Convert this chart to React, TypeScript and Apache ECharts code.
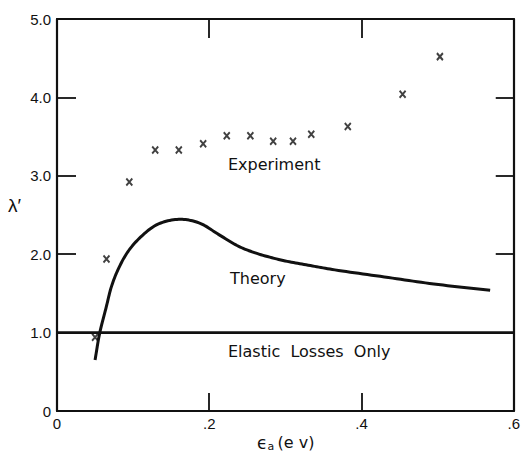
import React, { useEffect, useRef } from "react";
import * as echarts from "echarts";

const xTickLabels = ["0", ".2", ".4", ".6"];
const yTickLabels = ["0", "1.0", "2.0", "3.0", "4.0", "5.0"];

const experimentX = [0.05, 0.065, 0.095, 0.129, 0.16, 0.192, 0.223, 0.254, 0.284, 0.31, 0.334, 0.382, 0.454, 0.503];
const experimentY = [0.94, 1.94, 2.92, 3.33, 3.33, 3.41, 3.51, 3.51, 3.44, 3.44, 3.53, 3.63, 4.04, 4.52];

const theoryX = [0.05, 0.056, 0.0648, 0.0713, 0.08, 0.093, 0.11, 0.132, 0.16, 0.1865, 0.2126, 0.2387, 0.2626, 0.297, 0.33, 0.365, 0.43, 0.495, 0.569];
const theoryY = [0.65, 0.99, 1.33, 1.58, 1.8, 2.03, 2.22, 2.38, 2.445, 2.4, 2.25, 2.1, 2.01, 1.92, 1.86, 1.8, 1.71, 1.62, 1.54];

const elasticX = [0, 0.6];
const elasticY = [1.0, 1.0];

const FONT = "Liberation Sans";
const TFONT = "DejaVu Sans";

type P = number[];
function catmullRom(pts: P[], steps: number): P[] {
  const n = pts.length;
  const ext: P[] = [
    [2 * pts[0][0] - pts[1][0], 2 * pts[0][1] - pts[1][1]],
    ...pts,
    [2 * pts[n - 1][0] - pts[n - 2][0], 2 * pts[n - 1][1] - pts[n - 2][1]],
  ];
  const out: P[] = [pts[0]];
  const d = (a: P, b: P) => Math.max(Math.pow(Math.hypot(b[0] - a[0], b[1] - a[1]), 0.5), 1e-6);
  const lerp = (a: P, b: P, ta: number, tb: number, t: number): P => {
    const u = (t - ta) / (tb - ta);
    return [a[0] + (b[0] - a[0]) * u, a[1] + (b[1] - a[1]) * u];
  };
  for (let i = 1; i < ext.length - 2; i++) {
    const p0 = ext[i - 1], p1 = ext[i], p2 = ext[i + 1], p3 = ext[i + 2];
    const t0 = 0, t1 = t0 + d(p0, p1), t2 = t1 + d(p1, p2), t3 = t2 + d(p2, p3);
    for (let s = 1; s <= steps; s++) {
      const t = t1 + ((t2 - t1) * s) / steps;
      const A1 = lerp(p0, p1, t0, t1, t);
      const A2 = lerp(p1, p2, t1, t2, t);
      const A3 = lerp(p2, p3, t2, t3, t);
      const B1 = lerp(A1, A2, t0, t2, t);
      const B2 = lerp(A2, A3, t1, t3, t);
      out.push(lerp(B1, B2, t1, t2, t));
    }
  }
  return out;
}

export default function App() {
  const ref = useRef<HTMLDivElement>(null);
  useEffect(() => {
    if (!ref.current) return;
    const chart = echarts.init(ref.current, null, { renderer: "svg" });
    const axisCommon = {
      type: "value" as const,
      min: 0,
      axisLine: { show: true, onZero: false, lineStyle: { color: "#111", width: 2.2 } },
      splitLine: { show: false },
    };
    chart.setOption({
      animation: false,
      backgroundColor: "#fff",
      grid: { left: 57, right: 6, top: 19, bottom: 44 },
      xAxis: [
        {
          ...axisCommon,
          position: "bottom",
          max: 0.6,
          interval: 0.2,
          axisTick: { show: true, inside: true, length: 18, lineStyle: { color: "#111", width: 1.8 } },
          axisLabel: {
            margin: 5,
            color: "#111",
            fontFamily: FONT,
            fontSize: 15,
            formatter: (v: number) => xTickLabels[Math.round(v / 0.2)],
          },
        },
        {
          ...axisCommon,
          position: "top",
          max: 0.6,
          interval: 0.2,
          axisTick: { show: true, inside: true, length: 19, lineStyle: { color: "#111", width: 1.8 } },
          axisLabel: { show: false },
        },
      ],
      yAxis: [
        {
          ...axisCommon,
          position: "left",
          max: 5,
          interval: 1,
          axisTick: { show: true, inside: true, length: 19, lineStyle: { color: "#111", width: 1.8 } },
          axisLabel: {
            margin: 6,
            color: "#111",
            fontFamily: FONT,
            fontSize: 15,
            formatter: (v: number) => yTickLabels[Math.round(v)],
          },
        },
        {
          ...axisCommon,
          position: "right",
          max: 5,
          interval: 1,
          axisTick: { show: true, inside: true, length: 18, lineStyle: { color: "#111", width: 1.8 } },
          axisLabel: { show: false },
        },
      ],
      series: [
        {
          type: "line",
          name: "Elastic",
          data: elasticX.map((x, i) => [x, elasticY[i]]),
          symbol: "none",
          lineStyle: { color: "#111", width: 2.6 },
        },
        {
          type: "custom",
          name: "Theory",
          data: theoryX.map((x, i) => [x, theoryY[i]]),
          renderItem: (params: any, api: any) => {
            if (params.dataIndex !== 0) return null;
            const pts = theoryX.map((x, i) => api.coord([x, theoryY[i]]));
            return {
              type: "polyline",
              shape: { points: catmullRom(pts, 12) },
              style: { stroke: "#111", lineWidth: 3, fill: "none", lineJoin: "round", lineCap: "butt" },
            };
          },
        },
        {
          type: "scatter",
          name: "Experiment",
          data: experimentX.map((x, i) => [x, experimentY[i]]),
          symbol: "path://M0,0L10,10M10,0L0,10",
          symbolSize: [6, 7],
          itemStyle: { color: "none", borderColor: "#111", borderWidth: 2 },
        },
      ],
      graphic: [
        { type: "text", left: 228, top: 156, style: { text: "Experiment", font: `16px ${TFONT}`, fill: "#111" } },
        { type: "text", left: 230, top: 270, style: { text: "Theory", font: `16px ${TFONT}`, fill: "#111" } },
        { type: "text", left: 228, top: 343, style: { text: "Elastic  Losses  Only", font: `16px ${TFONT}`, fill: "#111" } },
        { type: "text", left: 8, top: 196, style: { text: "λ′", font: `19px ${FONT}`, fill: "#111" } },
        {
          type: "text",
          left: 257,
          top: 434,
          style: {
            text: "{e|ϵ}{s|a} {n|(e v)}",
            fill: "#111",
            rich: {
              e: { fontFamily: TFONT, fontSize: 17, fill: "#111" },
              s: { fontFamily: TFONT, fontSize: 11, fill: "#111", padding: [8, 0, 0, 0] },
              n: { fontFamily: TFONT, fontSize: 16, fill: "#111" },
            },
          },
        },
      ],
    });
    return () => chart.dispose();
  }, []);
  return <div ref={ref} style={{ position: "fixed", left: 0, top: 0, width: 523, height: 455 }} />;
}
